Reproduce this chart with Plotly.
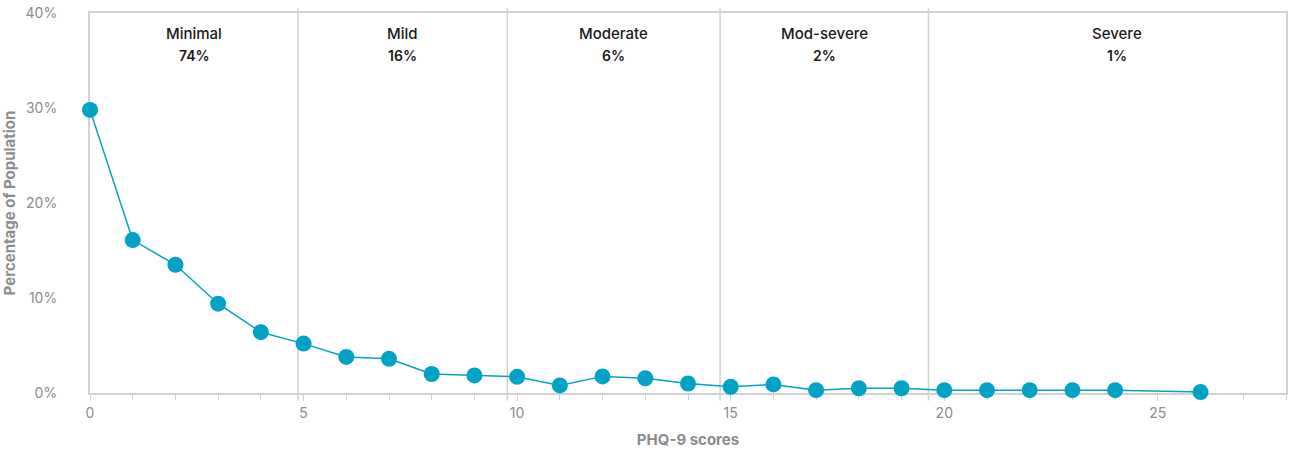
import plotly.graph_objects as go

scores = [0, 1, 2, 3, 4, 5, 6, 7, 8, 9, 10, 11, 12, 13, 14, 15, 16, 17, 18, 19, 20, 21, 22, 23, 24, 26]
pct = [29.8, 16.1, 13.5, 9.4, 6.4, 5.2, 3.8, 3.6, 2.0, 1.85, 1.7, 0.8, 1.75, 1.55, 1.0, 0.65, 0.9, 0.3, 0.5, 0.5, 0.3, 0.3, 0.3, 0.3, 0.3, 0.1]

band_names = ["Minimal", "Mild", "Moderate", "Mod-severe", "Severe"]
band_share = ["74%", "16%", "6%", "2%", "1%"]
band_edges = [0, 4.87, 9.77, 14.75, 19.63, 28.45]

LINE = "#00a3c6"
GRID = "#d2d2d2"
TICKTXT = "#8c8c8c"
FONT = "Inter, Noto Sans, sans-serif"

fig = go.Figure()
fig.add_trace(go.Scatter(
    x=scores, y=pct, mode="lines+markers",
    line=dict(color=LINE, width=1.5),
    marker=dict(color=LINE, size=16),
    cliponaxis=False, showlegend=False,
))

for e in band_edges[1:-1]:
    fig.add_shape(type="line", x0=e, x1=e, y0=-0.02, y1=1.012, xref="x", yref="paper",
                  line=dict(color=GRID, width=1.5), layer="below")

for i, (n, s) in enumerate(zip(band_names, band_share)):
    xc = (band_edges[i] + band_edges[i + 1]) / 2
    fig.add_annotation(x=xc, y=0.945, xref="x", yref="paper", text=n, showarrow=False,
                       font=dict(family=FONT, size=15, color="#1a1a1a", weight=500),
                       yanchor="middle")
    fig.add_annotation(x=xc, y=0.887, xref="x", yref="paper", text=s, showarrow=False,
                       font=dict(family=FONT, size=14, color="#1a1a1a", weight=600),
                       yanchor="middle")

fig.update_layout(
    width=1290, height=450,
    margin=dict(l=90, r=4, t=13, b=57, autoexpand=False),
    plot_bgcolor="white", paper_bgcolor="white",
    font=dict(family=FONT, color=TICKTXT, size=14),
)
fig.update_xaxes(
    range=[0, 28], tickvals=[0, 5, 10, 15, 20, 25],
    showgrid=False, zeroline=False, automargin=False, layer="below traces",
    showline=True, linecolor=GRID, linewidth=2, mirror=True,
    ticks="outside", ticklen=6, tickcolor=GRID, tickwidth=1,
    minor=dict(dtick=1, ticks="outside", ticklen=5, tickcolor=GRID, tickwidth=1),
    tickfont=dict(size=14, color=TICKTXT),
    title=dict(text="PHQ-9 scores", font=dict(size=15, color=TICKTXT, weight="bold"), standoff=15),
)
fig.update_yaxes(
    range=[0, 40], tickvals=[0, 10, 20, 30, 40], ticktext=["0%", "10%", "20%", "30%", "40%"],
    showgrid=False, zeroline=False, automargin=False, layer="below traces",
    showline=True, linecolor=GRID, linewidth=2, mirror=True,
    ticks="", ticklabelstandoff=28,
    tickfont=dict(size=14, color=TICKTXT),
    title=dict(text="Percentage of Population", font=dict(size=15, color=TICKTXT, weight="bold"), standoff=8),
)

fig.write_html("out.html", config={"displayModeBar": False},
               post_script="document.body.style.margin='0';document.body.style.overflow='hidden';")
